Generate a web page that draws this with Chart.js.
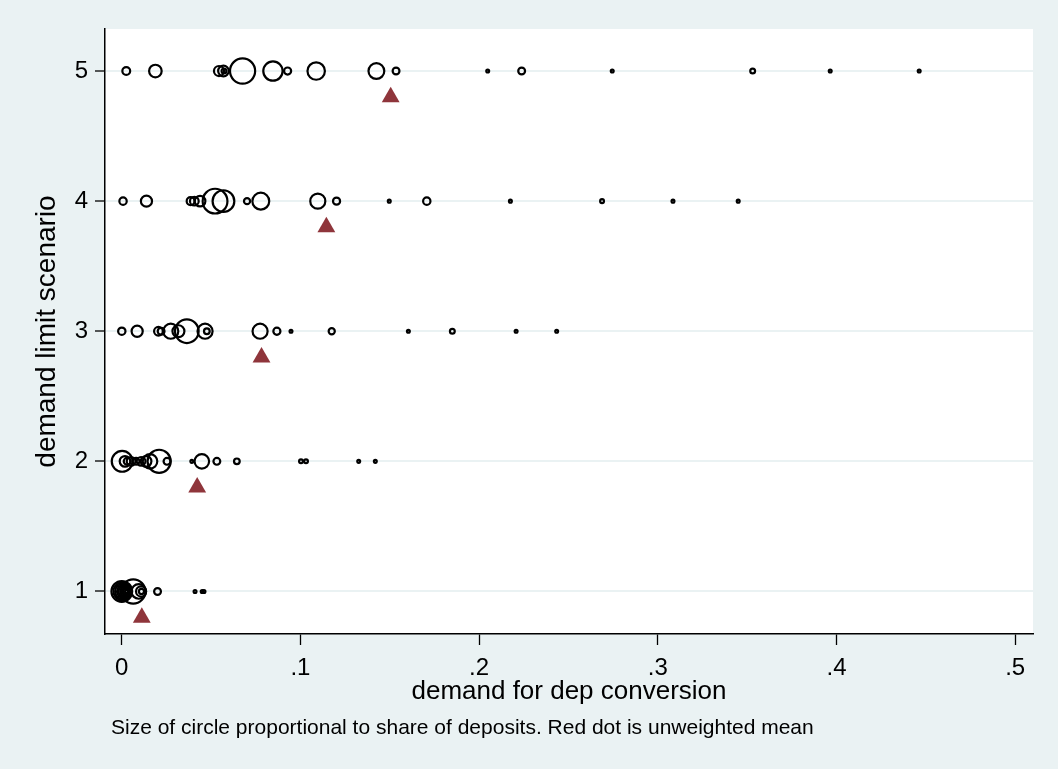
<!DOCTYPE html>
<html>
<head>
<meta charset="utf-8">
<title>demand for dep conversion</title>
<script src="https://cdn.jsdelivr.net/npm/chart.js@4.4.1/dist/chart.umd.min.js"></script>
<style>
  html, body { margin: 0; padding: 0; background: #eaf2f3; }
  #wrap { width: 1058px; height: 769px; }
</style>
</head>
<body>
<div id="wrap"><canvas id="chart" width="1058" height="769"></canvas></div>
<script>
// demand limit scenarios and the bank level demand in each (share = share of deposits, %)
const scenarios = [1, 2, 3, 4, 5];

const demand1 = [0, 0.0003, 0.0006, 0.001, 0.0013, 0.0017, 0.002, 0.0023, 0.0026, 0.0064, 0.0095, 0.0108, 0.011, 0.02, 0.041, 0.045, 0.046];
const share1  = [11.5, 8.6, 6.6, 4.9, 3.6, 2.5, 1.6, 0.9, 0.37, 15.5, 5.9, 3.0, 0.9, 1.5, 0.37, 0.37, 0.37];

const demand2 = [0.0002, 0.0018, 0.003, 0.0052, 0.008, 0.0108, 0.0136, 0.0158, 0.0209, 0.0253, 0.0392, 0.0448, 0.0532, 0.0644, 0.1003, 0.1031, 0.1326, 0.1419];
const share2  = [11.6, 3.3, 1.5, 2.3, 1.5, 2.3, 3.3, 5.9, 14.3, 1.5, 0.37, 5.9, 1.5, 1.1, 0.57, 0.57, 0.37, 0.37];

const demand3 = [0, 0.0086, 0.0205, 0.022, 0.0274, 0.0317, 0.0364, 0.0466, 0.0476, 0.0774, 0.0868, 0.0947, 0.1175, 0.1604, 0.185, 0.2207, 0.2434];
const share3  = [1.7, 3.6, 2.3, 1.5, 6.3, 4.1, 14.8, 6.3, 1.1, 6.3, 1.6, 0.37, 1.25, 0.37, 0.83, 0.37, 0.37];

const demand4 = [0.0007, 0.0138, 0.0385, 0.0406, 0.0438, 0.0522, 0.0569, 0.0701, 0.0778, 0.1097, 0.1202, 0.1497, 0.1707, 0.2175, 0.2688, 0.3085, 0.345];
const share4  = [1.7, 3.6, 1.9, 2.3, 3.3, 16.2, 12.6, 1.25, 7.8, 6.3, 1.6, 0.37, 1.7, 0.37, 0.57, 0.37, 0.37];

const demand5 = [0.0025, 0.0188, 0.0544, 0.0569, 0.0572, 0.0676, 0.0846, 0.0928, 0.1088, 0.1425, 0.1535, 0.2048, 0.2238, 0.2745, 0.3531, 0.3965, 0.4463];
const share5  = [1.9, 4.5, 3.0, 3.3, 0.83, 16.7, 10.1, 1.6, 8.3, 6.9, 1.5, 0.37, 1.5, 0.37, 0.83, 0.37, 0.37];

// unweighted mean per scenario (red triangles)
const meanDemand = [0.0112, 0.0422, 0.0782, 0.1145, 0.1505];

const xTicks = [0, 0.1, 0.2, 0.3, 0.4, 0.5];
const xTickLabels = ['0', '.1', '.2', '.3', '.4', '.5'];

const FONT = '"Liberation Sans", Arial, Helvetica, sans-serif';
const BG = '#eaf2f3';
const MEAN_DROP = 0.2;   // triangles sit just under their row

const demandRows = [demand1, demand2, demand3, demand4, demand5];
const shareRows = [share1, share2, share3, share4, share5];

// circle area roughly proportional to share
function circleRadius(w) {
  return 3.2 * Math.sqrt(w) - 0.5;
}

const circleSets = scenarios.map(function (s, k) {
  return {
    label: 'scenario ' + s,
    data: demandRows[k].map(function (d, i) { return { x: d, y: s, w: shareRows[k][i] }; }),
    pointRadius: function (c) { return circleRadius(c.raw.w); },
    pointBorderColor: '#000',
    pointBackgroundColor: 'rgba(0,0,0,0)',
    pointBorderWidth: 2.2,
    showLine: false
  };
});

const meanSet = {
  label: 'mean',
  data: scenarios.map(function (s, k) { return { x: meanDemand[k], y: s - MEAN_DROP }; }),
  pointStyle: 'triangle',
  pointRadius: 10.3,
  pointBackgroundColor: '#8f353b',
  pointBorderColor: '#8f353b',
  pointBorderWidth: 0,
  showLine: false
};

const stataLook = {
  id: 'stataLook',
  beforeDraw(chart) {
    const ctx = chart.ctx, a = chart.chartArea;
    ctx.save();
    ctx.fillStyle = BG;
    ctx.fillRect(0, 0, chart.width, chart.height);
    ctx.fillStyle = '#fff';
    ctx.fillRect(a.left, a.top, a.right - a.left, a.bottom - a.top);
    ctx.restore();
  },
  afterDraw(chart) {
    const ctx = chart.ctx, a = chart.chartArea;
    ctx.save();
    ctx.fillStyle = '#000';
    ctx.textBaseline = 'alphabetic';

    ctx.font = '26px ' + FONT;
    ctx.textAlign = 'center';
    ctx.fillText('demand for dep conversion', (a.left + a.right) / 2, 699);

    ctx.save();
    ctx.translate(55, (a.top + a.bottom) / 2);
    ctx.rotate(-Math.PI / 2);
    ctx.font = '28px ' + FONT;
    ctx.fillText('demand limit scenario', 0, 0);
    ctx.restore();

    ctx.font = '21px ' + FONT;
    ctx.textAlign = 'left';
    ctx.fillText('Size of circle proportional to share of deposits. Red dot is unweighted mean', 111, 734);
    ctx.restore();
  }
};

new Chart(document.getElementById('chart'), {
  type: 'scatter',
  data: { datasets: circleSets.concat([meanSet]) },
  options: {
    responsive: false,
    devicePixelRatio: 1,
    animation: false,
    events: [],
    layout: { padding: { top: 29, right: 25, left: 0, bottom: 0 } },
    plugins: { legend: { display: false }, tooltip: { enabled: false } },
    scales: {
      x: {
        type: 'linear',
        min: -0.0094,
        max: 0.51,
        afterBuildTicks: function (s) { s.ticks = xTicks.map(function (v) { return { value: v }; }); },
        afterFit: function (s) { s.height = 135; },
        ticks: {
          color: '#000',
          font: { family: FONT, size: 24 },
          padding: 9,
          maxRotation: 0,
          callback: function (v, i) { return xTickLabels[i]; }
        },
        grid: { drawOnChartArea: false, tickLength: 11, tickColor: '#000', tickWidth: 1.3 },
        border: { color: '#000', width: 1.5 }
      },
      y: {
        type: 'linear',
        min: 0.673,
        max: 5.323,
        afterBuildTicks: function (s) { s.ticks = scenarios.map(function (v) { return { value: v }; }); },
        afterFit: function (s) { s.width = 105; },
        ticks: {
          color: '#000',
          font: { family: FONT, size: 24 },
          padding: 7,
          callback: function (v) { return String(v); }
        },
        grid: { color: BG, lineWidth: 2, tickLength: 10, tickColor: '#000', tickWidth: 1.3 },
        border: { color: '#000', width: 1.5 }
      }
    }
  },
  plugins: [stataLook]
});
</script>
</body>
</html>
